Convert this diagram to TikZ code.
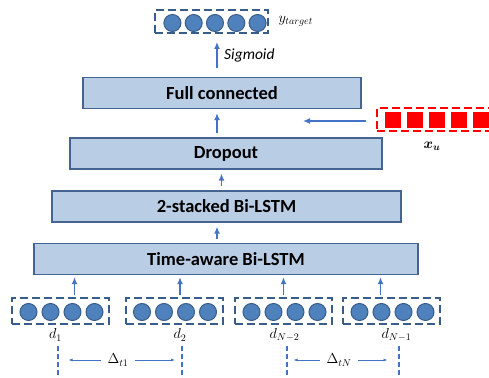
\documentclass[tikz,border=0pt]{standalone}
\usepackage{amsmath}
\usepackage{fontspec}
\setmainfont{Carlito}
\usepackage{tikz}
\usetikzlibrary{arrows.meta,calc,positioning}
\definecolor{LayerFill}{RGB}{185,205,229}
\definecolor{LayerLine}{RGB}{70,100,145}
\definecolor{FlowBlue}{RGB}{68,114,196}
\definecolor{UnitBlue}{RGB}{79,129,189}
\definecolor{UnitLine}{RGB}{56,93,138}

\begin{document}
\begin{tikzpicture}[x=1pt, y=-1pt, >={Latex[length=7pt,width=6pt]},
    every node/.style={font=\fontsize{14}{16}\selectfont},
    layer/.style={draw=LayerLine, line width=1.3pt, fill=LayerFill, inner sep=0pt,
        minimum height=31pt, font=\fontsize{18.5}{20}\selectfont\bfseries},
    unit/.style={circle, draw=UnitLine, line width=1pt, fill=UnitBlue, minimum size=17pt, inner sep=0pt},
    unitbox/.style={draw=UnitLine, line width=2pt, dash pattern=on 8pt off 4pt, minimum height=26pt, minimum width=97pt},
    flow/.style={->, draw=FlowBlue, line width=1.8pt},
    gap/.style={->, draw=FlowBlue, line width=0.8pt, >={Latex[length=4pt,width=3pt]}},
    tick line/.style={draw=FlowBlue, line width=2pt, dash pattern=on 5pt off 3pt}]
\clip (0,0) rectangle (489,377);
\fill[white] (0,0) rectangle (489,377);

% the four stacked layers
\node[layer, minimum width=278pt] (fc) at (222,93) {Full connected};
\node[layer, minimum width=312pt] (drop) at (226,153.5) {Dropout};
\node[layer, minimum width=349pt] (stack) at (226.5,206.5) {2-stacked Bi-LSTM};
\node[layer, minimum width=384pt] (tlstm) at (226,259) {Time-aware Bi-LSTM};

\draw[flow, shorten <=4pt, shorten >=4pt] ([xshift=-5pt]stack.north) -- ([xshift=-5pt]stack.north |- drop.south);
\draw[flow, shorten <=4pt, shorten >=4pt] ([xshift=-9pt]drop.north) -- ([xshift=-9pt]drop.north |- fc.south);
\draw[flow, shorten <=4pt, shorten >=4pt] ([xshift=-9pt]tlstm.north) -- ([xshift=-9pt]tlstm.north |- stack.south);

% output vector
\node[unitbox, minimum width=113pt, minimum height=23pt] (yout) at (211.5,21.5) {};
\foreach \k in {-2,...,2}
    \node[unit] (y\k) at (215+21.3*\k,23) {};
\node[anchor=west] (ylab) at (275,21) {$y_{target}$};
\draw[flow, shorten <=9pt, shorten >=8pt] ([xshift=-5pt]fc.north) -- ([xshift=-5pt]fc.north |- yout.south)
    node[midway, right=3pt, font=\fontsize{15.5}{17}\selectfont\itshape] {Sigmoid};

% user vector
\node[draw=red, line width=2pt, dash pattern=on 8pt off 4pt, minimum width=120pt, minimum height=23pt] (xu) at (437,119.5) {};
\foreach \k in {-2,...,2}
    \fill[red] (437+22*\k-8,111.5) rectangle ++(16,16);
\node (xlab) at (432,146) {$\boldsymbol{x_u}$};
\coordinate (fcin) at (303,121);
\draw[flow, shorten <=10pt] (xu.west |- fcin) -- (fcin);

% input steps
\foreach \i/\cx/\ax/\dx/\lab in {1/60.5/14/-5/d_1, 2/174/6/6/d_2, 3/283.5/0/1/d_{N-2}, 4/391.5/-11/5/d_{N-1}} {
    \node[unitbox] (in\i) at (\cx,311) {};
    \foreach \k in {-1.5,-0.5,0.5,1.5}
        \node[unit] at (\cx+1+22*\k,312) {};
    \draw[flow, shorten <=2pt, shorten >=2pt] ([xshift=\ax pt]in\i.north) -- ([xshift=\ax pt]in\i.north |- tlstm.south);
    \node (d\i) at (\cx+\dx,335) {$\lab$};
    \coordinate (e\i) at (\cx+\dx+2,380);
    \draw[tick line] ([xshift=2pt,yshift=-1pt]d\i.south) -- (e\i);
}

% time gaps
\node (dt1) at (118,360) {$\Delta_{t1}$};
\draw[gap, shorten <=3pt, shorten >=11pt] (dt1.west) -- (dt1.west -| e1);
\draw[gap, shorten <=3pt, shorten >=7pt] (dt1.east) -- (dt1.east -| e2);
\node (dtN) at (339,360) {$\Delta_{tN}$};
\draw[gap, shorten <=3pt, shorten >=7pt] (dtN.west) -- (dtN.west -| e3);
\draw[gap, shorten <=3pt, shorten >=11pt] (dtN.east) -- (dtN.east -| e4);
\end{tikzpicture}
\end{document}
